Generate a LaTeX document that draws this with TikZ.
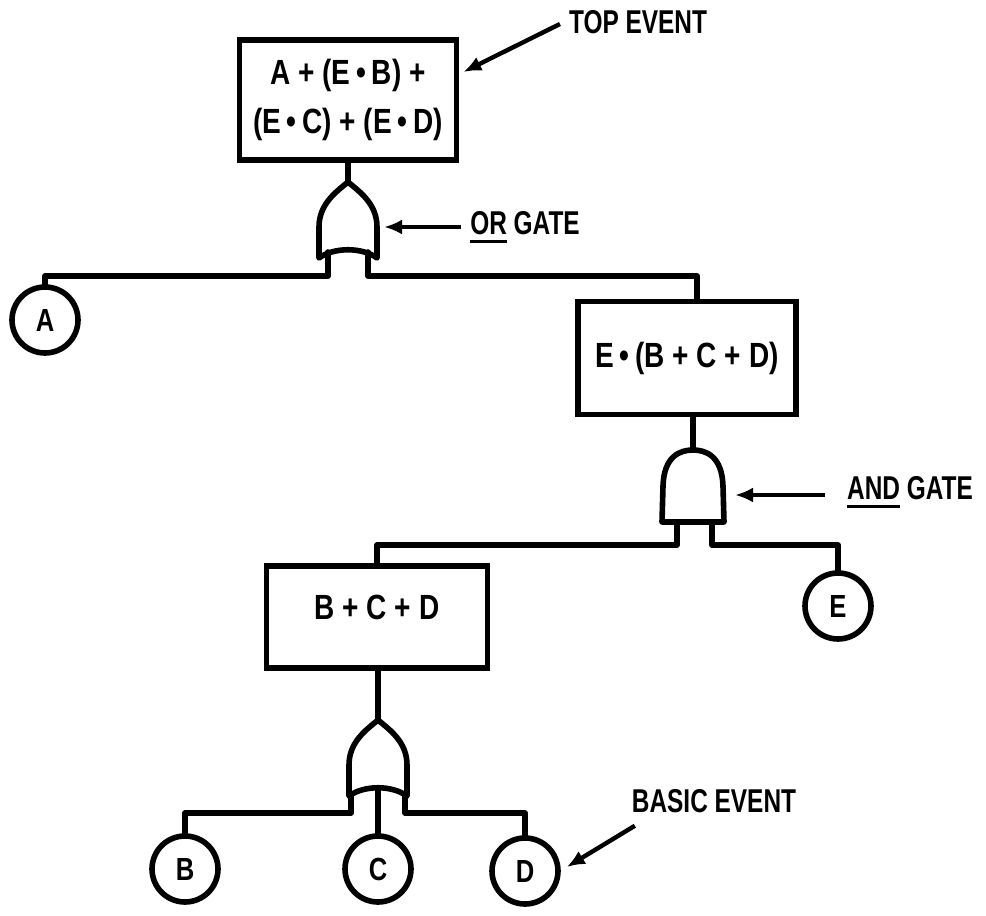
\documentclass[tikz,border=0pt]{standalone}
\usepackage{fontspec}
\setmainfont{Liberation Sans}[FakeStretch=0.8]
\newfontfamily\tagfont{Liberation Sans}[FakeStretch=0.74]
\usetikzlibrary{arrows.meta,positioning,calc}

% thick underline for the gate names
\newcommand\ulword[1]{\setbox0\hbox{#1}\rlap{\rule[-4.5pt]{\wd0}{1.6pt}}\box0\relax}
% tight product dot
\newcommand\pdot{\,•\,}

\tikzset{
  pics/orgate/.style={code={
    \draw[gateline] (0,0) .. controls (-12,10) and (-29,22) .. (-29,45)
      -- (-29,76) .. controls (-14,65) and (14,65) .. (29,76)
      -- (29,45) .. controls (29,22) and (12,10) .. (0,0) -- cycle;
    \coordinate (-top) at (0,0);
    \coordinate (-l) at (-20,70);  \coordinate (-lf) at (-20,94);
    \coordinate (-r) at (20,70);   \coordinate (-rf) at (20,94);
    \coordinate (-bl) at (-27,76); \coordinate (-blf) at (-27,93);
    \coordinate (-br) at (27,76);  \coordinate (-brf) at (27,93);
    \coordinate (-mid) at (0,68);
    \coordinate (-e) at (36,45);
  }},
  pics/andgate/.style={code={
    \draw[gateline] (-31,72) -- (-30,36) .. controls (-29,6) and (-13,0) .. (0,0)
      .. controls (13,0) and (29,6) .. (30,36) -- (31,72) -- cycle;
    \coordinate (-top) at (0,0);
    \coordinate (-l) at (-16,72); \coordinate (-lf) at (-16,95);
    \coordinate (-r) at (19,72);  \coordinate (-rf) at (19,95);
    \coordinate (-e) at (42,45);
  }}
}

\begin{document}
\begin{tikzpicture}[x=0.5pt,y=-0.5pt,
  every node/.style={font=\bfseries,align=center},
  gateline/.style={line width=2.8pt,line join=round},
  wire/.style={line width=2.8pt,line join=round,line cap=round},
  eventbox/.style={draw,line width=2.8pt,inner sep=0pt,
    font=\bfseries\fontsize{17.5}{24.5}\selectfont},
  basic/.style={draw,circle,line width=2.8pt,minimum size=33pt,inner sep=0pt,
    font=\bfseries\fontsize{16}{18}\selectfont},
  tag/.style={font=\tagfont\bfseries\fontsize{16.5}{19}\selectfont},
  pointer/.style={line width=2.2pt,-{Latex[length=9pt,width=7.5pt]}}]
  \useasboundingbox (0,0) rectangle (986,916);

  % events
  \node[eventbox,minimum width=108.5pt,minimum height=60pt] (topevt) at (348,100)
    {A + (E\pdot B) +\\(E\pdot C) + (E\pdot D)};
  \node[eventbox,minimum width=109pt,minimum height=56.5pt] (midevt) at (687,358)
    {E\pdot(B + C + D)};
  \node[eventbox,minimum width=110.5pt,minimum height=51pt] (lowevt) at (377,617)
    {\raisebox{10pt}{B + C + D}};

  % gates
  \pic (orTop) at (348,182) {orgate};
  \pic (andMid) at (693,450) {andgate};
  \pic (orLow) at (378,720) {orgate};

  % basic events
  \node[basic] (A) at (45,320) {A};
  \node[basic] (E) at (838,606) {E};
  \node[basic] (B) at (185,869) {B};
  \node[basic] (C) at (378,869) {C};
  \node[basic] (D) at (525,871) {D};

  % tree wiring
  \draw[wire] (topevt.south) -- (orTop-top);
  \draw[wire] (orTop-l) -- (orTop-lf) -| (A);
  \draw[wire] (orTop-r) -- (orTop-rf) -| ([xshift=5pt]midevt.north);
  \draw[wire] (midevt.south -| andMid-top) -- (andMid-top);
  \draw[wire] (andMid-l) -- (andMid-lf) -| (lowevt);
  \draw[wire] (andMid-r) -- (andMid-rf) -| (E);
  \draw[wire] (lowevt.south -| orLow-top) -- (orLow-top);
  \draw[wire] (orLow-bl) -- (orLow-blf) -| (B);
  \draw[wire] (orLow-mid) -- (C);
  \draw[wire] (orLow-br) -- (orLow-brf) -| (D);

  % callouts
  \node[tag] (toplbl) at (638,22) {TOP EVENT};
  \node[tag] (orlbl) at (525,227) {\ulword{OR} GATE};
  \node[tag] (andlbl) at (910,492) {\ulword{AND} GATE};
  \node[tag] (basiclbl) at (714,801) {BASIC EVENT};
  \draw[pointer] ([xshift=-1pt,yshift=-1pt]toplbl.west) -- ([xshift=2pt,yshift=14pt]topevt.east);
  \draw[pointer] ([xshift=-1pt]orlbl.west) -- (orTop-e);
  \draw[pointer] ([xshift=-7.5pt,yshift=-1.5pt]andlbl.west) -- (andMid-e);
  \draw[pointer] ([xshift=5pt,yshift=-3pt]basiclbl.south west) -- ([xshift=3pt,yshift=2pt]D.east);
\end{tikzpicture}
\end{document}
